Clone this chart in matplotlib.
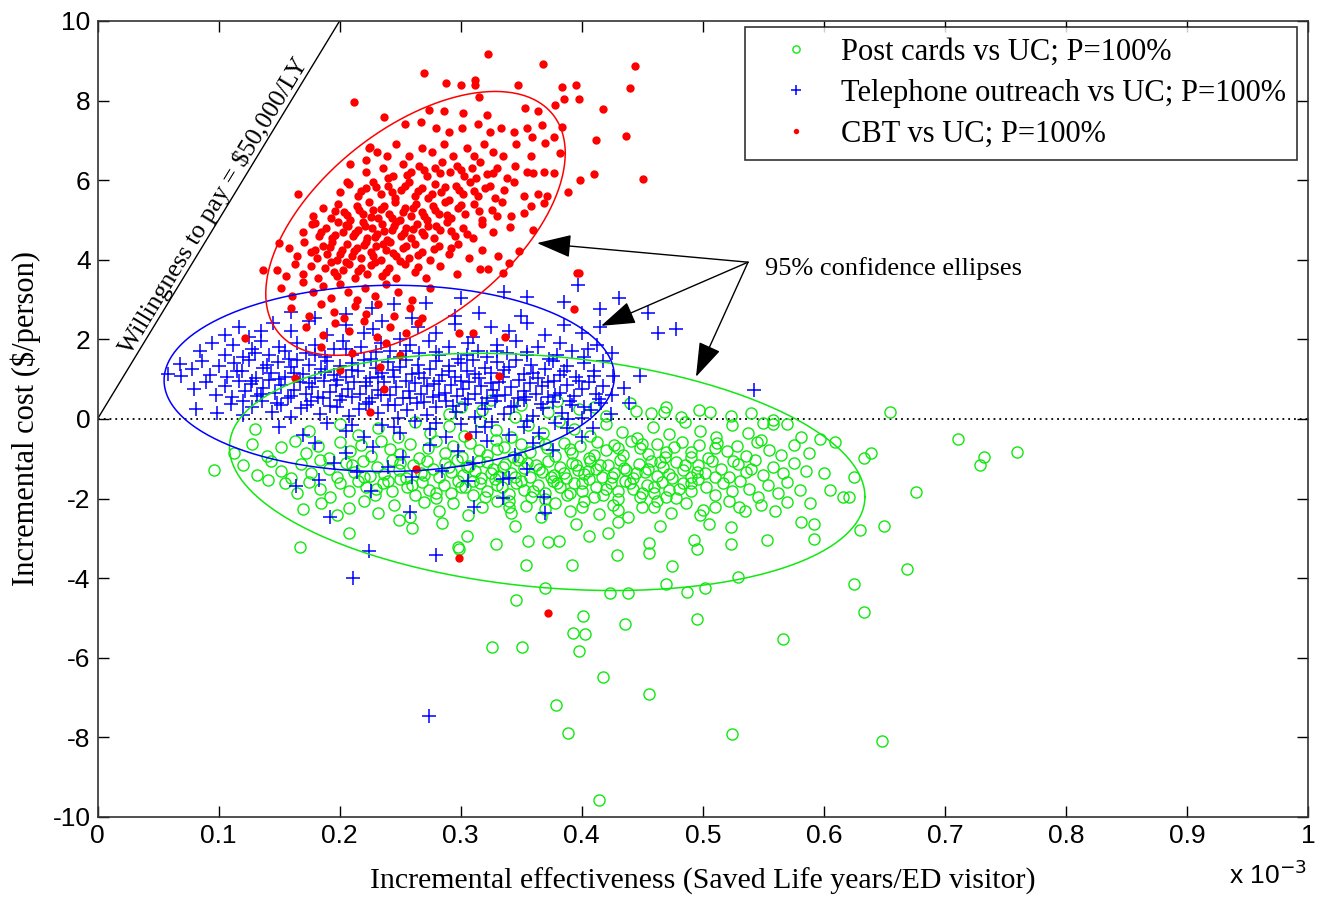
import numpy as np
import matplotlib
matplotlib.use("Agg")
import matplotlib.pyplot as plt

# ---------------- data (x in units of 1e-3 saved LY / ED visitor, y in $/person) -------------
post_cards = [
    (0.290,0.12),(0.318,0.22),(0.345,0.05),(0.372,0.18),(0.398,0.25),(0.420,0.08),(0.445,0.20),(0.457,0.16),
    (0.468,0.18),(0.482,0.05),(0.497,0.23),(0.506,0.18),(0.523,0.08),(0.540,0.15),(0.558,-0.02),(0.655,0.18),
    (0.350,0.35),(0.380,0.45),(0.410,0.30),(0.440,0.40),(0.470,0.30),(0.300,0.30),(0.325,0.48),
    (0.130,-0.25),(0.175,-0.30),(0.200,-0.12),(0.215,-0.40),(0.232,-0.22),(0.248,-0.45),(0.262,-0.08),(0.275,-0.35),
    (0.290,-0.18),(0.303,-0.42),(0.316,-0.05),(0.329,-0.28),(0.342,-0.45),(0.356,-0.15),(0.368,-0.35),(0.381,-0.05),
    (0.394,-0.25),(0.407,-0.42),(0.420,-0.12),(0.433,-0.32),(0.446,-0.48),(0.459,-0.20),(0.472,-0.38),(0.485,-0.08),
    (0.498,-0.30),(0.511,-0.45),(0.524,-0.15),(0.537,-0.35),(0.550,-0.10),(0.558,-0.13),(0.570,-0.13),(0.581,-0.44),
    (0.597,-0.49),(0.609,-0.57),
    (0.113,-0.86),(0.128,-0.62),(0.140,-0.92),(0.152,-0.70),(0.163,-0.55),(0.172,-0.85),(0.182,-0.68),(0.191,-0.97),
    (0.200,-0.58),(0.209,-0.80),(0.218,-0.66),(0.226,-0.93),(0.234,-0.55),(0.242,-0.75),(0.250,-0.88),(0.258,-0.62),
    (0.266,-0.98),(0.273,-0.72),(0.280,-0.56),(0.287,-0.85),(0.294,-0.68),(0.301,-0.95),(0.308,-0.60),(0.315,-0.78),
    (0.322,-0.90),(0.329,-0.52),(0.336,-0.70),(0.343,-0.96),(0.350,-0.63),(0.357,-0.82),(0.364,-0.55),(0.371,-0.74),
    (0.378,-0.92),(0.385,-0.60),(0.392,-0.86),(0.399,-0.68),(0.406,-0.98),(0.413,-0.58),(0.420,-0.79),(0.427,-0.65),
    (0.434,-0.91),(0.441,-0.55),(0.448,-0.74),(0.455,-0.88),(0.462,-0.62),(0.469,-0.95),(0.476,-0.70),(0.483,-0.57),
    (0.490,-0.84),(0.497,-0.66),(0.504,-0.97),(0.512,-0.60),(0.520,-0.80),(0.528,-0.68),(0.536,-0.93),(0.545,-0.58),
    (0.548,-0.53),(0.555,-0.78),(0.565,-0.90),(0.575,-0.65),(0.588,-0.85),(0.633,-0.99),(0.639,-0.85),(0.711,-0.49),
    (0.760,-0.84),(0.732,-0.96),
    (0.096,-1.28),(0.120,-1.15),(0.132,-1.40),(0.143,-1.05),(0.152,-1.30),(0.160,-1.48),(0.168,-1.12),(0.176,-1.35),
    (0.184,-1.02),(0.191,-1.25),(0.198,-1.45),(0.205,-1.10),(0.212,-1.32),(0.219,-1.05),(0.225,-1.42),(0.231,-1.20),
    (0.237,-1.38),(0.243,-1.02),(0.249,-1.28),(0.255,-1.48),(0.261,-1.15),(0.267,-1.35),(0.272,-1.05),(0.277,-1.25),
    (0.282,-1.45),(0.287,-1.10),(0.292,-1.32),(0.297,-1.02),(0.302,-1.40),(0.307,-1.18),(0.312,-1.30),(0.317,-1.48),
    (0.322,-1.08),(0.327,-1.25),(0.332,-1.42),(0.337,-1.12),(0.342,-1.35),(0.347,-1.02),(0.352,-1.22),(0.357,-1.45),
    (0.362,-1.15),(0.367,-1.32),(0.372,-1.05),(0.377,-1.40),(0.382,-1.20),(0.387,-1.48),(0.392,-1.10),(0.397,-1.28),
    (0.402,-1.38),(0.407,-1.05),(0.412,-1.25),(0.417,-1.45),(0.422,-1.15),(0.427,-1.35),(0.432,-1.02),(0.437,-1.28),
    (0.442,-1.48),(0.447,-1.12),(0.452,-1.32),(0.457,-1.05),(0.462,-1.42),(0.467,-1.20),(0.472,-1.38),(0.478,-1.08),
    (0.484,-1.28),(0.490,-1.46),(0.496,-1.15),(0.502,-1.35),(0.508,-1.05),(0.515,-1.25),(0.522,-1.45),(0.529,-1.12),
    (0.536,-1.32),(0.543,-1.02),(0.550,-1.40),(0.558,-1.20),(0.566,-1.35),(0.575,-1.10),(0.585,-1.30),(0.600,-1.35),
    (0.625,-1.45),(0.729,-1.15),
    (0.141,-1.53),(0.155,-1.61),(0.165,-1.85),(0.175,-1.58),(0.184,-1.75),(0.192,-1.95),(0.200,-1.62),(0.208,-1.82),
    (0.215,-1.55),(0.222,-1.72),(0.229,-1.92),(0.236,-1.60),(0.243,-1.80),(0.250,-1.52),(0.256,-1.70),(0.262,-1.90),
    (0.268,-1.58),(0.274,-1.78),(0.280,-1.98),(0.286,-1.65),(0.292,-1.85),(0.298,-1.55),(0.304,-1.72),(0.310,-1.92),
    (0.316,-1.62),(0.322,-1.82),(0.328,-1.52),(0.334,-1.70),(0.340,-1.88),(0.346,-1.60),(0.352,-1.78),(0.358,-1.96),
    (0.364,-1.65),(0.370,-1.85),(0.376,-1.55),(0.382,-1.72),(0.388,-1.92),(0.394,-1.60),(0.400,-1.80),(0.406,-1.52),
    (0.412,-1.70),(0.418,-1.90),(0.424,-1.62),(0.430,-1.82),(0.436,-1.55),(0.442,-1.75),(0.448,-1.95),(0.454,-1.65),
    (0.460,-1.85),(0.466,-1.58),(0.472,-1.78),(0.478,-1.98),(0.484,-1.62),(0.490,-1.82),(0.496,-1.52),(0.503,-1.72),
    (0.510,-1.92),(0.517,-1.60),(0.524,-1.80),(0.531,-1.55),(0.538,-1.75),(0.546,-1.95),(0.554,-1.65),(0.562,-1.85),
    (0.570,-1.58),(0.580,-1.78),(0.605,-1.78),(0.676,-1.84),
    (0.170,-2.25),(0.185,-2.10),(0.198,-2.40),(0.208,-2.23),(0.220,-2.05),(0.232,-2.35),(0.245,-2.15),(0.258,-2.45),
    (0.270,-2.08),(0.282,-2.30),(0.294,-2.12),(0.306,-2.42),(0.318,-2.20),(0.330,-2.05),(0.342,-2.35),(0.354,-2.18),
    (0.366,-2.45),(0.378,-2.10),(0.390,-2.30),(0.402,-2.05),(0.414,-2.38),(0.426,-2.15),(0.438,-2.45),(0.450,-2.22),
    (0.462,-2.05),(0.474,-2.35),(0.486,-2.12),(0.498,-2.40),(0.510,-2.20),(0.522,-2.05),(0.535,-2.32),(0.548,-2.15),
    (0.570,-2.08),(0.589,-2.12),(0.616,-1.97),(0.621,-1.97),
    (0.208,-2.87),(0.249,-2.54),(0.260,-2.75),(0.285,-2.62),(0.299,-3.27),(0.305,-2.95),(0.329,-3.14),(0.345,-2.70),
    (0.356,-3.06),(0.372,-3.08),(0.381,-3.06),(0.395,-2.65),(0.406,-2.95),(0.422,-2.87),(0.430,-2.60),(0.456,-3.37),
    (0.456,-3.12),(0.465,-2.70),(0.493,-3.04),(0.495,-3.27),(0.505,-2.65),(0.523,-3.14),(0.523,-2.72),(0.553,-3.04),
    (0.581,-2.60),(0.592,-3.02),(0.592,-2.64),(0.630,-2.80),(0.650,-2.68),(0.167,-3.21),(0.298,-3.21),(0.354,-3.67),
    (0.392,-3.67),(0.429,-3.41),(0.475,-3.69),(0.470,-4.14),(0.423,-4.38),(0.438,-4.38),(0.487,-4.35),(0.502,-4.25),
    (0.529,-3.96),(0.669,-3.77),(0.625,-4.15),(0.633,-4.84),(0.566,-5.53),(0.648,-8.08),(0.524,-7.92),(0.456,-6.91),
    (0.418,-6.49),(0.379,-7.18),(0.389,-7.89),(0.414,-9.58),(0.398,-5.84),(0.393,-5.38),(0.403,-5.41),(0.401,-4.95),
    (0.436,-5.15),(0.495,-5.02),(0.326,-5.72),(0.351,-5.72),(0.346,-4.56),(0.370,-4.25),
]
post_cards_core = [
    (0.300,-1.70),(0.310,-1.55),(0.320,-1.95),(0.330,-1.65),(0.340,-2.05),(0.350,-1.55),(0.360,-1.80),(0.370,-2.00),
    (0.380,-1.62),(0.390,-1.85),(0.400,-1.62),(0.410,-1.95),(0.420,-1.75),(0.430,-2.02),(0.440,-1.62),(0.450,-1.85),
    (0.460,-1.70),(0.470,-1.95),(0.480,-1.75),(0.490,-1.60),
    (0.305,-1.20),(0.315,-1.05),(0.325,-1.35),(0.335,-1.20),(0.345,-1.45),(0.355,-1.10),(0.365,-1.25),(0.375,-1.45),
    (0.385,-1.35),(0.395,-1.15),(0.405,-1.30),(0.415,-1.15),(0.425,-1.45),(0.435,-1.22),(0.445,-1.35),(0.455,-1.25),
    (0.465,-1.08),(0.475,-1.48),(0.485,-1.15),(0.495,-1.32),(0.510,-1.45),(0.525,-1.05),(0.540,-1.25),
    (0.260,-1.65),(0.270,-1.40),(0.280,-1.85),(0.290,-1.20),(0.250,-1.10),(0.240,-1.55),(0.230,-1.75),(0.220,-1.45),
    (0.210,-1.15),
    (0.330,-0.75),(0.350,-0.95),(0.370,-0.62),(0.390,-0.75),(0.410,-0.90),(0.430,-0.72),(0.450,-0.62),(0.470,-0.82),
    (0.490,-0.95),(0.510,-0.72),
    (0.340,-2.22),(0.370,-2.25),(0.400,-2.20),(0.430,-2.28),(0.460,-2.22),(0.500,-2.28),(0.530,-2.22),(0.560,-2.30),
]

telephone = [
    (0.227,2.80),(0.245,2.88),(0.271,2.92),(0.295,2.60),(0.315,2.67),(0.336,3.18),(0.355,3.07),(0.385,2.94),
    (0.397,3.36),(0.431,3.03),(0.415,2.77),(0.455,2.67),(0.205,2.65),(0.180,2.55),(0.160,2.70),(0.260,2.55),
    (0.350,2.60),(0.300,3.05),
    (0.105,2.10),(0.117,2.30),(0.125,2.05),(0.145,2.40),(0.160,2.20),(0.175,2.45),(0.190,2.10),(0.205,2.35),
    (0.220,2.15),(0.235,2.45),(0.250,2.00),(0.265,2.30),(0.280,2.15),(0.295,2.38),(0.310,2.05),(0.325,2.30),
    (0.340,2.20),(0.355,2.40),(0.370,2.10),(0.385,2.35),(0.400,2.15),(0.415,2.30),(0.463,2.17),(0.478,2.27),
    (0.135,2.20),(0.228,2.25),
    (0.085,1.70),(0.095,1.90),(0.105,1.60),(0.112,1.85),(0.120,1.55),(0.128,1.75),(0.135,1.95),(0.142,1.60),
    (0.150,1.80),(0.158,1.50),(0.165,1.90),(0.172,1.65),(0.180,1.85),(0.188,1.55),(0.195,1.75),(0.203,1.95),
    (0.210,1.60),(0.218,1.80),(0.226,1.50),(0.234,1.90),(0.242,1.70),(0.250,1.55),(0.258,1.85),(0.266,1.65),
    (0.274,1.95),(0.282,1.60),(0.290,1.80),(0.298,1.50),(0.306,1.90),(0.314,1.70),(0.322,1.55),(0.330,1.85),
    (0.338,1.65),(0.346,1.95),(0.355,1.60),(0.364,1.80),(0.373,1.50),(0.382,1.90),(0.392,1.70),(0.402,1.55),
    (0.413,1.85),(0.425,1.65),
    (0.058,1.12),(0.069,1.08),(0.068,1.37),(0.078,1.25),(0.086,1.45),(0.093,1.10),(0.100,1.32),(0.107,1.05),
    (0.113,1.40),(0.119,1.20),(0.125,1.48),(0.131,1.02),(0.137,1.28),(0.143,1.15),(0.149,1.42),(0.155,1.05),
    (0.160,1.30),(0.165,1.48),(0.170,1.12),(0.175,1.35),(0.180,1.02),(0.185,1.25),(0.190,1.45),(0.195,1.10),
    (0.200,1.32),(0.205,1.05),(0.210,1.40),(0.215,1.20),(0.220,1.48),(0.225,1.02),(0.230,1.28),(0.235,1.15),
    (0.240,1.42),(0.245,1.05),(0.250,1.30),(0.255,1.48),(0.260,1.12),(0.265,1.35),(0.270,1.02),(0.275,1.25),
    (0.280,1.45),(0.285,1.10),(0.290,1.32),(0.295,1.05),(0.300,1.40),(0.305,1.20),(0.310,1.48),(0.315,1.02),
    (0.320,1.28),(0.325,1.15),(0.330,1.42),(0.335,1.05),(0.340,1.30),(0.346,1.48),(0.352,1.12),(0.358,1.35),
    (0.364,1.02),(0.370,1.25),(0.376,1.45),(0.382,1.10),(0.388,1.32),(0.395,1.05),(0.402,1.40),(0.410,1.20),
    (0.418,1.45),(0.426,1.08),(0.448,1.09),
    (0.080,0.75),(0.090,0.92),(0.098,0.60),(0.105,0.82),(0.111,0.55),(0.117,0.95),(0.122,0.70),(0.127,0.88),
    (0.132,0.58),(0.137,0.78),(0.142,0.98),(0.147,0.65),(0.152,0.85),(0.157,0.52),(0.162,0.72),(0.167,0.92),
    (0.172,0.62),(0.177,0.80),(0.182,0.55),(0.187,0.96),(0.192,0.68),(0.197,0.86),(0.202,0.58),(0.207,0.76),
    (0.212,0.94),(0.217,0.64),(0.222,0.84),(0.227,0.54),(0.232,0.74),(0.237,0.92),(0.242,0.60),(0.247,0.80),
    (0.252,0.52),(0.257,0.70),(0.262,0.90),(0.267,0.62),(0.272,0.82),(0.277,0.56),(0.282,0.96),(0.287,0.66),
    (0.292,0.86),(0.297,0.58),(0.302,0.76),(0.307,0.94),(0.312,0.64),(0.317,0.84),(0.322,0.54),(0.327,0.74),
    (0.332,0.92),(0.337,0.60),(0.342,0.80),(0.347,0.52),(0.352,0.70),(0.357,0.90),(0.362,0.62),(0.367,0.82),
    (0.372,0.56),(0.377,0.96),(0.382,0.66),(0.388,0.86),(0.394,0.58),(0.400,0.76),(0.406,0.94),(0.412,0.64),
    (0.418,0.84),(0.425,0.60),(0.435,0.78),(0.542,0.74),
    (0.081,0.24),(0.099,0.15),(0.110,0.38),(0.120,0.10),(0.128,0.30),(0.136,0.45),(0.144,0.18),(0.152,0.35),
    (0.160,0.05),(0.168,0.28),(0.176,0.45),(0.184,0.12),(0.192,0.32),(0.200,0.48),(0.208,0.08),(0.216,0.25),
    (0.224,0.42),(0.232,0.15),(0.240,0.35),(0.248,0.02),(0.256,0.22),(0.264,0.40),(0.272,0.10),(0.280,0.30),
    (0.288,0.46),(0.296,0.18),(0.304,0.38),(0.312,0.05),(0.320,0.26),(0.328,0.44),(0.336,0.12),(0.344,0.32),
    (0.352,0.48),(0.360,0.08),(0.368,0.28),(0.376,0.42),(0.384,0.15),(0.392,0.35),(0.400,0.02),(0.408,0.22),
    (0.416,0.40),(0.424,0.12),(0.439,0.40),
    (0.150,-0.20),(0.170,-0.40),(0.190,-0.10),(0.205,-0.30),(0.220,-0.45),(0.235,-0.15),(0.250,-0.35),(0.262,-0.05),
    (0.275,-0.25),(0.288,-0.45),(0.300,-0.12),(0.313,-0.32),(0.326,-0.08),(0.340,-0.40),(0.352,-0.20),(0.365,-0.35),
    (0.378,-0.10),(0.389,-0.01),(0.388,-0.23),(0.409,-0.23),(0.400,-0.45),
    (0.180,-0.60),(0.205,-0.85),(0.228,-0.70),(0.252,-0.95),(0.275,-0.65),(0.298,-0.80),(0.322,-0.55),(0.345,-0.90),
    (0.376,-0.77),(0.360,-0.60),
    (0.214,-1.34),(0.260,-1.45),(0.195,-1.10),(0.240,-1.20),(0.285,-1.30),(0.310,-1.10),(0.340,-1.47),(0.355,-1.25),
    (0.164,-1.68),(0.183,-1.53),(0.226,-1.82),(0.306,-1.57),(0.335,-1.51),(0.335,-1.99),(0.311,-2.20),(0.258,-2.33),
    (0.192,-2.45),(0.224,-3.31),(0.280,-3.42),(0.211,-3.99),(0.369,-1.95),(0.370,-2.35),(0.274,-7.46),
]
telephone_core = [
    (0.115,1.20),(0.128,0.95),(0.140,1.35),(0.150,1.00),(0.162,1.15),(0.175,0.90),(0.188,1.18),(0.198,0.98),
    (0.210,1.22),(0.222,0.92),(0.232,1.05),(0.244,1.22),(0.255,0.95),(0.266,1.15),(0.278,0.88),(0.290,1.20),
    (0.300,0.95),(0.312,1.12),(0.325,0.90),(0.336,1.22),(0.348,0.98),(0.360,1.15),(0.372,0.92),(0.385,1.20),
    (0.398,0.95),(0.410,1.08),
    (0.120,0.45),(0.135,0.62),(0.148,0.40),(0.160,0.58),(0.173,0.35),(0.186,0.52),(0.198,0.30),(0.210,0.55),
    (0.222,0.38),(0.234,0.60),(0.246,0.35),(0.258,0.52),(0.270,0.42),(0.282,0.60),(0.294,0.32),(0.306,0.50),
    (0.318,0.40),(0.330,0.58),(0.342,0.30),(0.354,0.55),(0.366,0.38),(0.378,0.60),(0.390,0.45),(0.402,0.30),
    (0.414,0.50),
    (0.130,1.65),(0.155,1.70),(0.180,1.62),(0.205,1.75),(0.230,1.68),(0.255,1.72),(0.280,1.68),(0.305,1.62),
    (0.330,1.72),(0.355,1.68),(0.380,1.62),(0.405,1.75),
    (0.210,-0.15),(0.245,-0.20),(0.280,-0.10),(0.320,-0.20),(0.355,-0.05),
]

cbt = [
    (0.323,9.17),(0.368,8.92),(0.444,8.88),(0.270,8.70),(0.288,8.43),(0.300,8.40),(0.312,8.53),(0.312,8.38),
    (0.347,8.40),(0.384,8.35),(0.395,8.39),(0.440,8.31),(0.212,7.97),(0.385,8.03),(0.398,8.03),(0.378,7.89),
    (0.418,7.78),(0.437,7.11),(0.412,7.01),(0.410,6.16),(0.451,6.04),(0.399,6.00),(0.389,5.71),(0.166,5.65),
    (0.237,7.58),(0.398,3.66),(0.137,3.74),(0.150,4.43),(0.323,3.76),(0.316,3.78),
    (0.315,8.10),(0.274,7.76),(0.286,7.74),(0.302,7.70),(0.322,7.65),(0.353,7.81),(0.364,7.74),
    (0.254,7.40),(0.267,7.45),(0.280,7.30),(0.290,7.20),(0.301,7.30),(0.314,7.40),(0.324,7.20),(0.333,7.30),
    (0.344,7.20),(0.355,7.30),(0.359,7.09),(0.367,7.39),(0.377,7.08),(0.384,7.33),
    (0.224,6.80),(0.231,6.70),(0.239,6.60),(0.247,6.90),(0.257,6.60),(0.268,6.80),(0.276,6.70),(0.286,6.90),
    (0.294,6.60),(0.305,6.80),(0.311,6.60),(0.319,6.90),(0.327,6.70),(0.335,6.60),(0.346,6.90),(0.358,6.60),
    (0.370,6.93),(0.382,6.68),(0.225,6.84),(0.222,6.51),
    (0.209,6.40),(0.222,6.20),(0.236,6.30),(0.244,6.10),(0.252,6.40),(0.259,6.20),(0.266,6.35),(0.272,6.10),
    (0.279,6.30),(0.285,6.45),(0.291,6.20),(0.297,6.35),(0.303,6.10),(0.309,6.30),(0.316,6.45),(0.322,6.15),
    (0.330,6.30),(0.338,6.05),(0.345,6.35),(0.355,6.20),(0.360,6.17),(0.369,6.21),(0.377,6.17),(0.206,5.96),
    (0.200,5.70),(0.208,5.90),(0.215,5.60),(0.222,5.80),(0.228,5.95),(0.234,5.65),(0.240,5.85),(0.246,5.55),
    (0.251,5.75),(0.257,5.95),(0.262,5.60),(0.268,5.80),(0.273,5.55),(0.279,5.90),(0.284,5.70),(0.290,5.50),
    (0.296,5.85),(0.302,5.65),(0.308,5.95),(0.314,5.60),(0.320,5.80),(0.328,5.55),(0.336,5.75),(0.344,5.95),
    (0.352,5.60),(0.364,5.65),(0.371,5.60),(0.369,5.42),
    (0.178,5.10),(0.186,5.30),(0.193,5.05),(0.199,5.40),(0.204,5.20),(0.209,5.00),(0.214,5.35),(0.219,5.15),
    (0.224,5.45),(0.228,5.25),(0.232,5.05),(0.237,5.35),(0.241,5.15),(0.246,5.45),(0.250,5.00),(0.254,5.30),
    (0.259,5.10),(0.263,5.40),(0.268,5.20),(0.272,5.00),(0.277,5.35),(0.282,5.15),(0.287,5.45),(0.292,5.05),
    (0.298,5.30),(0.304,5.15),(0.311,5.40),(0.318,5.00),(0.326,5.25),(0.334,5.45),(0.342,5.10),(0.352,5.17),
    (0.358,5.34),(0.180,4.93),
    (0.170,4.70),(0.177,4.90),(0.183,4.60),(0.189,4.80),(0.194,4.55),(0.199,4.95),(0.203,4.70),(0.207,4.85),
    (0.211,4.60),(0.215,4.75),(0.219,4.95),(0.223,4.55),(0.227,4.80),(0.231,4.65),(0.235,4.90),(0.239,4.50),
    (0.243,4.75),(0.247,4.95),(0.251,4.60),(0.255,4.80),(0.259,4.55),(0.264,4.90),(0.268,4.70),(0.273,4.85),
    (0.278,4.55),(0.283,4.75),(0.289,4.95),(0.295,4.60),(0.302,4.80),(0.310,4.55),(0.318,4.90),(0.327,4.70),
    (0.341,4.83),(0.360,4.75),
    (0.158,4.30),(0.165,4.10),(0.171,4.45),(0.176,4.20),(0.181,4.05),(0.186,4.35),(0.190,4.15),(0.194,4.45),
    (0.198,4.00),(0.202,4.25),(0.206,4.40),(0.210,4.10),(0.214,4.30),(0.218,4.05),(0.222,4.45),(0.226,4.20),
    (0.230,4.35),(0.234,4.00),(0.238,4.25),(0.242,4.45),(0.247,4.10),(0.252,4.30),(0.257,4.05),(0.262,4.40),
    (0.268,4.20),(0.275,4.00),(0.282,4.35),(0.290,4.15),(0.298,4.40),(0.307,4.05),(0.318,4.25),(0.331,4.10),
    (0.348,4.21),
    (0.148,3.75),(0.156,3.60),(0.163,3.90),(0.170,3.65),(0.176,3.85),(0.182,3.55),(0.188,3.80),(0.193,3.95),
    (0.198,3.60),(0.203,3.75),(0.208,3.90),(0.213,3.55),(0.218,3.80),(0.223,3.65),(0.229,3.95),(0.235,3.60),
    (0.241,3.80),(0.247,3.55),(0.254,3.90),(0.262,3.70),(0.271,3.55),(0.283,3.85),(0.297,3.65),(0.340,3.91),
    (0.335,3.66),
    (0.152,3.30),(0.161,3.10),(0.170,3.45),(0.178,3.20),(0.186,3.35),(0.193,3.05),(0.200,3.40),(0.207,3.20),
    (0.214,3.00),(0.221,3.30),(0.229,3.10),(0.238,3.40),(0.248,3.20),(0.260,3.00),(0.275,3.30),
    (0.160,2.80),(0.175,2.60),(0.185,2.90),(0.195,2.70),(0.204,2.55),(0.213,2.85),(0.222,2.65),(0.232,2.90),
    (0.245,2.60),(0.258,2.80),(0.268,2.55),
    (0.172,2.30),(0.186,2.10),(0.196,2.40),(0.208,2.20),(0.220,2.45),(0.231,2.05),(0.242,2.30),(0.255,2.15),
    (0.265,2.40),(0.185,1.80),(0.210,1.65),(0.238,1.90),(0.250,1.60),
    (0.122,2.04),(0.163,1.03),(0.200,1.23),(0.233,1.30),(0.237,0.76),(0.225,0.18),(0.332,1.08),(0.337,2.07),
    (0.396,3.66),(0.394,2.77),(0.299,2.17),(0.310,2.17),(0.306,-0.42),(0.263,-1.26),(0.299,-3.49),(0.372,-4.87),
]
cbt_core = [
    (0.195,3.70),(0.205,3.95),(0.215,3.72),(0.226,3.88),(0.238,3.70),(0.250,3.98),(0.265,3.82),
    (0.180,4.25),(0.192,4.32),(0.200,4.15),(0.212,4.22),(0.220,4.38),(0.228,4.10),(0.236,4.40),(0.244,4.18),
    (0.255,4.35),(0.265,4.12),(0.278,4.28),(0.292,4.30),
    (0.185,4.70),(0.196,4.62),(0.205,4.88),(0.213,4.68),(0.221,4.85),(0.229,4.58),(0.237,4.72),(0.245,4.85),
    (0.253,4.68),(0.261,4.78),(0.270,4.62),(0.280,4.85),(0.292,4.72),(0.305,4.65),
    (0.196,5.22),(0.206,5.12),(0.216,5.25),(0.226,5.08),(0.234,5.28),(0.243,5.05),(0.252,5.20),(0.261,5.30),
    (0.270,5.10),(0.279,5.25),(0.289,5.12),(0.300,5.38),(0.315,5.22),(0.330,5.10),
    (0.218,5.72),(0.230,5.82),(0.243,5.70),(0.254,5.85),(0.265,5.72),(0.276,5.65),(0.287,5.82),(0.299,5.75),
    (0.311,5.72),(0.324,5.85),
    (0.240,6.05),(0.256,6.12),(0.270,6.25),(0.283,6.18),(0.300,6.25),(0.313,6.05),(0.327,6.18),
]

series_labels = ["Post cards vs UC; P=100%",
                 "Telephone outreach vs UC; P=100%",
                 "CBT vs UC; P=100%"]

# 95% confidence ellipses: centre (x, y), horizontal / vertical half-extent, tilt phase
ellipses = {
    "post":  dict(cx=0.3715, cy=-1.33, rx=0.2625, ry=2.98, phi=-0.21),
    "phone": dict(cx=0.241,  cy=1.02,  rx=0.186,  ry=2.34, phi=0.02),
    "cbt":   dict(cx=0.2627, cy=4.915, rx=0.1237, ry=3.315, phi=0.561),
}

wtp_per_ly = 50000.0   # $ per life year

x_ticks = [0, 0.1, 0.2, 0.3, 0.4, 0.5, 0.6, 0.7, 0.8, 0.9, 1]
x_ticklabels = ["0", "0.1", "0.2", "0.3", "0.4", "0.5", "0.6", "0.7", "0.8", "0.9", "1"]
y_ticks = [-10, -8, -6, -4, -2, 0, 2, 4, 6, 8, 10]

# ---------------- styling ----------------
GREEN = "#10e810"
BLUE = "#0000ff"
RED = "#ff0000"
SERIF = ["Liberation Serif", "DejaVu Serif"]
SANS = ["Liberation Sans", "DejaVu Sans"]

W, H = 1326, 908
fig = plt.figure(figsize=(W / 100, H / 100), dpi=100)
ax = fig.add_axes([97.5 / W, (H - 817) / H, 1210.5 / W, 796 / H])

gx, gy = zip(*(post_cards + post_cards_core))
bx, by = zip(*(telephone + telephone_core))
rx_, ry_ = zip(*(cbt + cbt_core))

ax.plot(gx, gy, ls="none", marker="o", mfc="none", mec=GREEN, ms=8, mew=1.0,
        label=series_labels[0], zorder=2)
ax.plot(bx, by, ls="none", marker="+", color=BLUE, ms=10.5, mew=1.1,
        label=series_labels[1], zorder=3)
ax.plot(rx_, ry_, ls="none", marker="o", color=RED, mfc=RED, mec=RED, ms=6.0, mew=0,
        label=series_labels[2], zorder=4)

t = np.linspace(0, 2 * np.pi, 400)
for key, col in (("post", GREEN), ("phone", BLUE), ("cbt", RED)):
    e = ellipses[key]
    ex = e["cx"] + e["rx"] * np.cos(t)
    ey = e["cy"] + e["ry"] * np.sin(t + e["phi"])
    ax.plot(ex, ey, color=col, lw=1.1, zorder=5)

# zero line and willingness-to-pay line
ax.axhline(0, color="black", ls=(0, (1, 2.2)), lw=1.3, zorder=1)
wx = np.array([0.0, 0.25])
ax.plot(wx, wtp_per_ly * wx * 1e-3, color="black", lw=1.0, zorder=1)

ax.set_xlim(0, 1)
ax.set_ylim(-10, 10)
ax.set_xticks(x_ticks)
ax.set_xticklabels(x_ticklabels)
ax.set_yticks(y_ticks)
ax.set_yticklabels([str(v) for v in y_ticks])
ax.tick_params(direction="in", length=8, width=1, top=True, right=True,
               labelsize=19, pad=5)
for lab in ax.get_xticklabels() + ax.get_yticklabels():
    lab.set_family(SANS)
for sp in ax.spines.values():
    sp.set_linewidth(1.2)
    sp.set_color("#333333")

ax.set_xlabel("Incremental effectiveness (Saved Life years/ED visitor)",
              family=SERIF, fontsize=21.5, labelpad=14)
ax.set_ylabel(r"Incremental cost (\$/person)", family=SERIF, fontsize=22, labelpad=8)

fig.text(1268 / W, (H - 884) / H, r"x 10$^{-3}$", family=SANS, fontsize=19,
         ha="center", va="baseline")

# rotated willingness-to-pay text (angle taken from the line in display space)
p0 = ax.transData.transform((0, 0))
p1 = ax.transData.transform((0.2, wtp_per_ly * 0.2e-3))
ang = np.degrees(np.arctan2(p1[1] - p0[1], p1[0] - p0[0]))
ux, uy = np.cos(np.radians(ang)), np.sin(np.radians(ang))
off = 3.0  # points, perpendicular to the line
ax.annotate(r"Willingness to pay = \$50,000/LY",
            xy=(0.104, wtp_per_ly * 0.104e-3), xytext=(-uy * off, ux * off),
            textcoords="offset points", rotation=ang, rotation_mode="anchor",
            ha="center", va="baseline", family=SERIF, fontsize=18.5)

# annotation with arrows
ax.text(0.5514, 3.79, "95% confidence ellipses", family=SERIF, fontsize=19,
        ha="left", va="center")
tail = (0.5374, 3.94)
for tip in [(0.3631, 4.42), (0.4160, 2.34), (0.4944, 1.06)]:
    ax.annotate("", xy=tip, xytext=tail,
                arrowprops=dict(arrowstyle="-|>,head_length=1.2,head_width=0.4",
                                color="black", lw=1.0, mutation_scale=18,
                                shrinkA=0, shrinkB=0))

leg = ax.legend(loc="upper right", bbox_to_anchor=(0.9909, 0.9925), borderaxespad=0,
                prop=dict(family=SERIF, size=22), frameon=True, fancybox=False,
                edgecolor="black", markerscale=0.65, handlelength=2.65,
                handletextpad=0.15, borderpad=0.35, labelspacing=0.4)
leg.get_frame().set_linewidth(1.2)

fig.savefig("out.png", dpi=100)
